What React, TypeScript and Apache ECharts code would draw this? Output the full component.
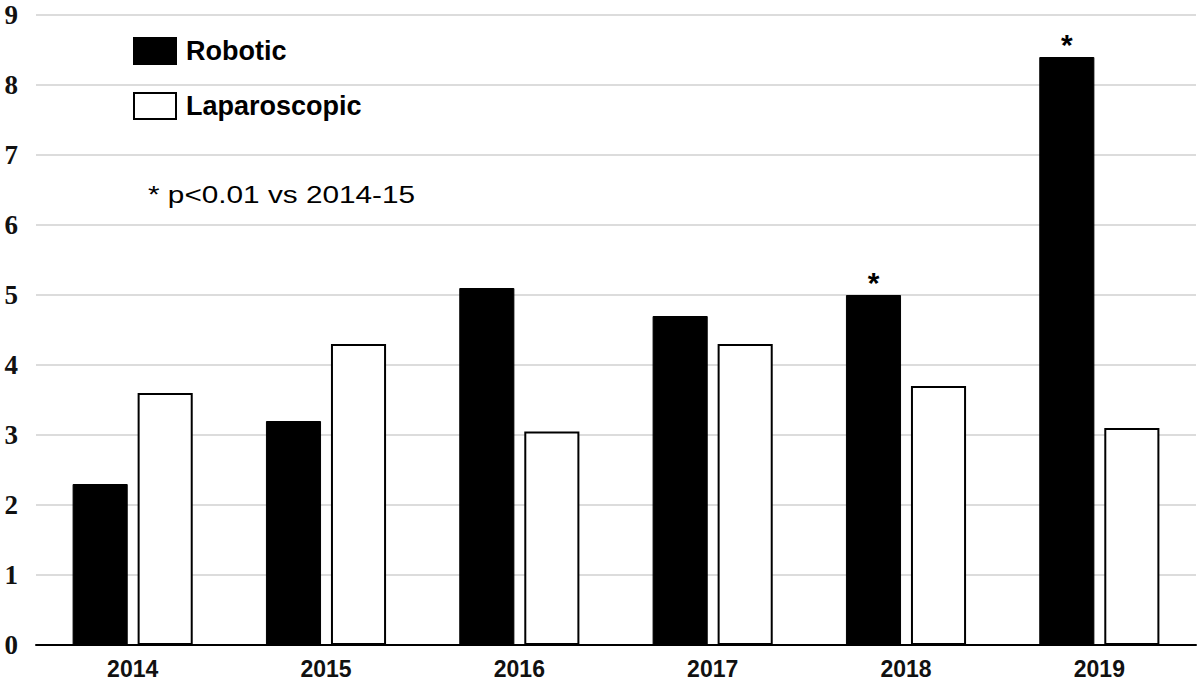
import React, { useEffect, useRef } from "react";
import * as echarts from "echarts";

const years = ["2014", "2015", "2016", "2017", "2018", "2019"];
const robotic = [2.3, 3.2, 5.1, 4.7, 5.0, 8.4];
const laparoscopic = [3.6, 4.3, 3.05, 4.3, 3.7, 3.1];
const roboticSignificant = [false, false, false, false, true, true];
const yTicks = [0, 1, 2, 3, 4, 5, 6, 7, 8, 9];
const noteText = "* p<0.01 vs 2014-15";

export default function App() {
  const ref = useRef<HTMLDivElement>(null);
  useEffect(() => {
    if (!ref.current) return;
    const chart = echarts.init(ref.current, null, { renderer: "svg" });
    chart.setOption({
      animation: false,
      backgroundColor: "#ffffff",
      grid: { left: 36, right: 4, top: 15, bottom: 37 },
      legend: {
        orient: "vertical",
        left: 133,
        top: 37,
        padding: 0,
        itemWidth: 42,
        itemHeight: 26,
        itemGap: 27,
        icon: "rect",
        selectedMode: false,
        textStyle: {
          fontFamily: "Liberation Sans",
          fontWeight: "bold",
          fontSize: 27,
          color: "#000",
          padding: [0, 0, 0, 5],
        },
        data: [
          { name: "Robotic", itemStyle: { color: "#000", borderColor: "#000", borderWidth: 2 } },
          { name: "Laparoscopic", itemStyle: { color: "#fff", borderColor: "#000", borderWidth: 2 } },
        ],
      },
      graphic: [
        {
          type: "text",
          x: 148,
          y: 183,
          scaleX: 1.24,
          style: {
            text: noteText,
            fontFamily: "Liberation Sans",
            fontSize: 24,
            fill: "#000",
          },
        },
      ],
      xAxis: {
        type: "category",
        data: years,
        axisLine: { show: true, lineStyle: { color: "#000", width: 2 } },
        axisTick: { show: false },
        axisLabel: {
          margin: 12,
          fontFamily: "Liberation Sans",
          fontWeight: "bold",
          fontSize: 23,
          color: "#111",
        },
      },
      yAxis: {
        type: "value",
        min: yTicks[0],
        max: yTicks[yTicks.length - 1],
        interval: 1,
        axisLine: { show: false },
        axisTick: { show: false },
        splitLine: { lineStyle: { color: "#dcdcdc", width: 2 } },
        axisLabel: {
          margin: 18,
          fontFamily: "Liberation Serif",
          fontWeight: "bold",
          fontSize: 27,
          color: "#111",
        },
      },
      series: [
        {
          name: "Robotic",
          type: "bar",
          data: robotic.map((v, i) => ({
            value: v,
            label: {
              show: roboticSignificant[i],
              position: "top",
              formatter: "*",
              fontFamily: "Liberation Sans",
              fontWeight: "bold",
              fontSize: 30,
              color: "#000",
              distance: -2,
            },
          })),
          barWidth: "28.5%",
          barGap: "18%",
          itemStyle: { color: "#000", borderColor: "#000", borderWidth: 1 },
        },
        {
          name: "Laparoscopic",
          type: "bar",
          data: laparoscopic,
          barWidth: "28.5%",
          itemStyle: { color: "#fff", borderColor: "#000", borderWidth: 2 },
        },
      ],
    });
    return () => chart.dispose();
  }, []);
  return (
    <div
      ref={ref}
      style={{ position: "absolute", left: 0, top: 0, width: 1200, height: 682 }}
    />
  );
}
